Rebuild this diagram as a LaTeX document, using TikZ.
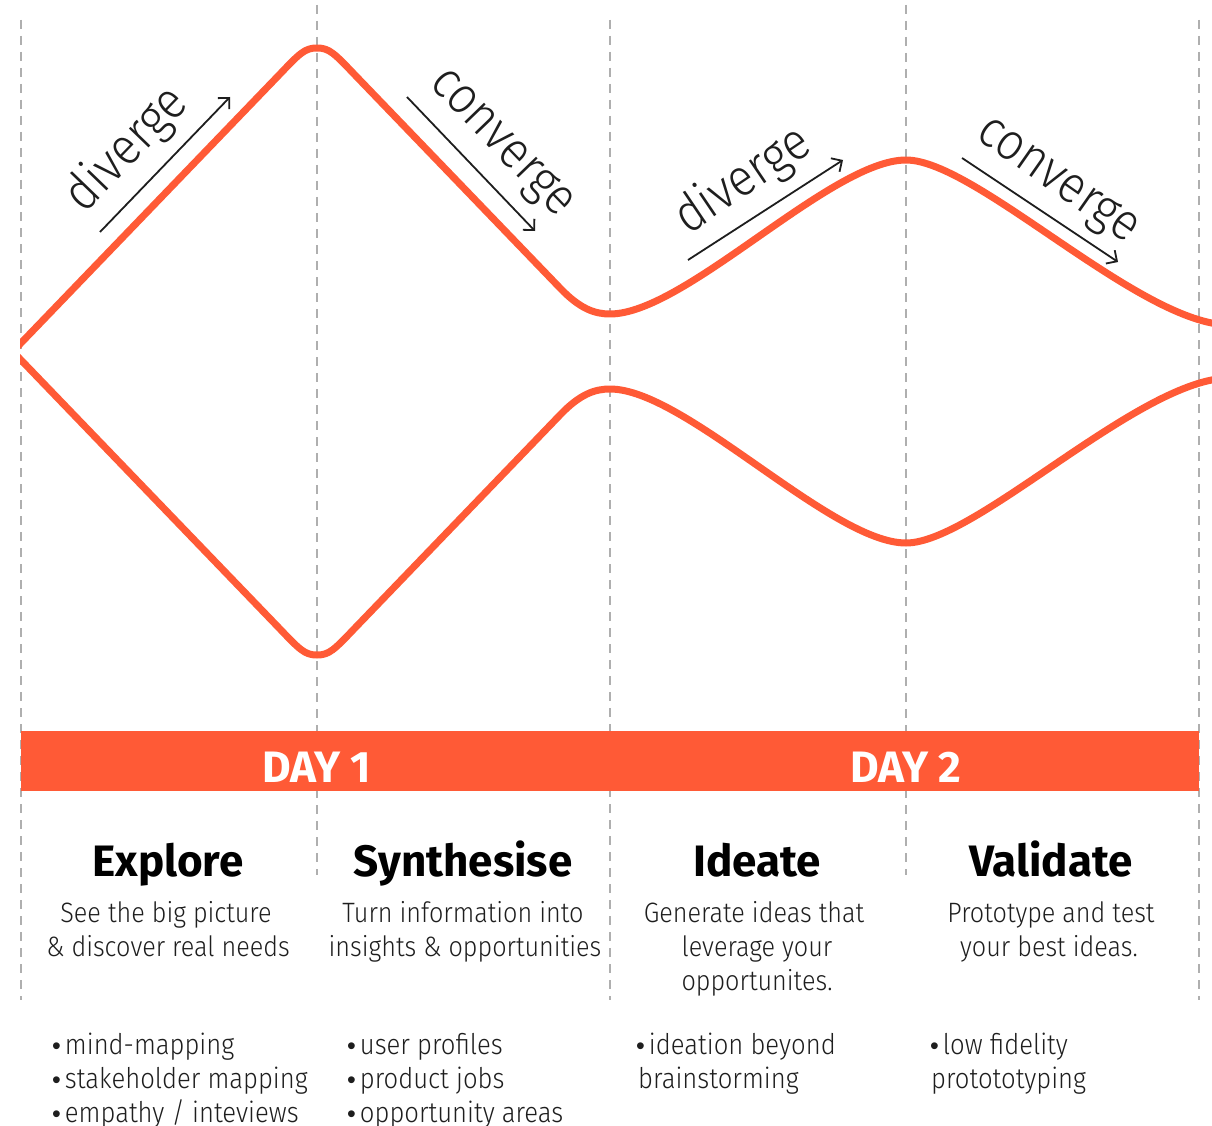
\documentclass[tikz,border=0pt]{standalone}
\usepackage{fontspec}
\usetikzlibrary{arrows.meta}
\setmainfont{Fira Sans Light}[FakeStretch=0.9]
\newfontfamily\headfont{Fira Sans Bold}
\newfontfamily\dotfont{Liberation Sans}
\definecolor{flame}{RGB}{255,90,54}
\definecolor{guidegray}{RGB}{175,175,175}
\definecolor{ink}{RGB}{30,30,30}
\newcommand{\itemdot}{{\dotfont\fontsize{25}{25}\selectfont •}\hspace{4pt}}

\begin{document}
\begin{tikzpicture}[x=1pt,y=-1pt,
  guide/.style={draw=guidegray, line width=1.5pt, dash pattern=on 9pt off 7pt},
  wave/.style={draw=flame, line width=7pt, line join=round},
  flow/.style={draw=ink, line width=1.8pt, -{Straight Barb[length=8pt,width=16pt,line width=1.8pt]}},
  flowlabel/.style={font=\fontsize{52}{52}\selectfont, text=ink, inner sep=0pt},
  heading/.style={font=\headfont\fontsize{44}{44}\selectfont, text=black, anchor=base, inner sep=0pt},
  desc/.style={font=\fontsize{28}{34}\selectfont, text=ink, anchor=base, inner sep=0pt},
  bullet/.style={font=\fontsize{28.5}{34}\selectfont, text=ink, anchor=base west, inner sep=0pt},
  daylabel/.style={font=\headfont\fontsize{44}{44}\selectfont, text=white, anchor=base, inner sep=0pt}]
\useasboundingbox (0,0) rectangle (1212,1126);
\fill[white] (0,0) rectangle (1212,1126);

% phase separators
\draw[guide] (21,20) -- (21,1000);
\draw[guide] (317,5) -- (317,875);
\draw[guide] (610,20) -- (610,1000);
\draw[guide] (906,5) -- (906,875);
\draw[guide] (1199,20) -- (1199,1000);

% double diamond
\begin{scope}
\clip (20,0) rectangle (1212,720);
\draw[wave] (11,353.4) -- (280,74) .. controls (300,53) and (305,48) .. (317,48)
  .. controls (329,48) and (334,53) .. (354,74) -- (560,288)
  .. controls (580,309) and (595,314) .. (610,314)
  .. controls (685,314) and (831,160) .. (906,160)
  .. controls (976,160) and (1140,325) .. (1230,325);
\draw[wave] (11,349.6) -- (280,629) .. controls (300,650) and (305,655) .. (317,655)
  .. controls (329,655) and (334,650) .. (354,629) -- (560,415)
  .. controls (580,394) and (595,389) .. (610,389)
  .. controls (685,389) and (831,543) .. (906,543)
  .. controls (976,543) and (1140,378) .. (1230,378);
\end{scope}

% diverge / converge arrows
\coordinate (d1s) at (100,232); \coordinate (d1e) at (230,97);
\coordinate (c1s) at (407,97);  \coordinate (c1e) at (535,231);
\coordinate (d2s) at (688,260); \coordinate (d2e) at (843,160);
\coordinate (c2s) at (962,158); \coordinate (c2e) at (1118,262);
\draw[flow] (d1s) -- (d1e);
\draw[flow] (c1s) -- (c1e);
\draw[flow] (d2s) -- (d2e);
\draw[flow] (c2s) -- (c2e);
\node[flowlabel, rotate=46]  (div1) at (127,150) {diverge};
\node[flowlabel, rotate=-46] (con1) at (500,145) {converge};
\node[flowlabel, rotate=34]  (div2) at (743,181) {diverge};
\node[flowlabel, rotate=-35] (con2) at (1056,183) {converge};

% day bar
\node[fill=flame, inner sep=0pt, minimum width=1178pt, minimum height=60pt] (daybar) at (610,761) {};
\node[daylabel] (day1) at (317,782) {DAY 1};
\node[daylabel] (day2) at (906,782) {DAY 2};

% phase titles
\node[heading] (explore) at (168,876) {Explore};
\node[heading] (synth)   at (463,876) {Synthesise};
\node[heading] (ideate)  at (757,876) {Ideate};
\node[heading] (valid)   at (1051,876) {Validate};

% phase descriptions
\node[desc] (exp1) at (166,922) {See the big picture};
\node[desc] (exp2) at (168,956) {\& discover real needs};
\node[desc] (syn1) at (463,922) {Turn information into};
\node[desc] (syn2) at (465,956) {insights \& opportunities};
\node[desc] (ide1) at (754,922) {Generate ideas that};
\node[desc] (ide2) at (757,956) {leverage your};
\node[desc] (ide3) at (757,990) {opportunites.};
\node[desc] (val1) at (1051,922) {Prototype and test};
\node[desc] (val2) at (1049,956) {your best ideas.};

% methods
\node[bullet] (m11) at (52,1054) {\itemdot mind-mapping};
\node[bullet] (m12) at (52,1088) {\itemdot stakeholder mapping};
\node[bullet] (m13) at (52,1122) {\itemdot empathy / inteviews};
\node[bullet] (m21) at (347,1054) {\itemdot user profiles};
\node[bullet] (m22) at (347,1088) {\itemdot product jobs};
\node[bullet] (m23) at (347,1122) {\itemdot opportunity areas};
\node[bullet] (m31) at (636,1054) {\itemdot ideation beyond};
\node[bullet] (m32) at (638,1088) {brainstorming};
\node[bullet] (m41) at (930,1054) {\itemdot low fidelity};
\node[bullet] (m42) at (931,1088) {protototyping};
\end{tikzpicture}
\end{document}
